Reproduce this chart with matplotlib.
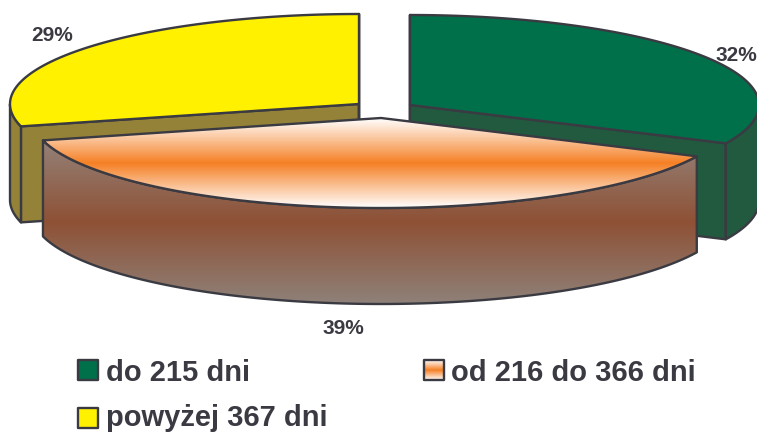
import numpy as np
import matplotlib
matplotlib.use('Agg')
import matplotlib.pyplot as plt
from matplotlib.colors import LinearSegmentedColormap
from matplotlib.patches import Polygon, Rectangle

plt.rcParams['font.family'] = ['Liberation Sans', 'DejaVu Sans']

# shares of each group, clockwise from twelve o'clock
categories = ['do 215 dni', 'od 216 do 366 dni', 'powyżej 367 dni']
shares = [32, 39, 29]

GREEN_TOP = '#00704a'
GREEN_SIDE = '#215a3f'
YELLOW_TOP = '#fff100'
YELLOW_SIDE = '#958239'
EDGE = '#3a3a42'

# ellipse of the pie and its extrusion, in pixels
RX, RY, DEPTH = 349, 90, 96
# slice apex after the explode offset
apex = [(410, 105), (381, 118), (359, 104)]
label_pos = [(736, 61), (343.5, 334), (52, 41)]

orange_cmap = LinearSegmentedColormap.from_list('top', ['#ffffff', '#f58025', '#ffffff'])
brown_cmap = LinearSegmentedColormap.from_list('side', ['#948279', '#8e5135', '#8f8179'])

fig = plt.figure(figsize=(7.57, 4.32), dpi=100)
ax = fig.add_axes([0, 0, 1, 1])


def rim(cx, cy, a0, a1, n=200):
    t = np.radians(np.linspace(a0, a1, n))
    return np.column_stack([cx + RX * np.sin(t), cy - RY * np.cos(t)])


def grad_fill(pts, cmap, y0, y1, z):
    # vertical gradient image clipped to the polygon
    grad = np.linspace(0, 1, 256).reshape(-1, 1)
    x0 = pts[:, 0].min()
    x1 = pts[:, 0].max()
    im = ax.imshow(grad, cmap=cmap, extent=(x0, x1, y1, y0), aspect='auto', zorder=z, interpolation='bilinear')
    poly = Polygon(pts, closed=True, transform=ax.transData, facecolor='none', edgecolor=EDGE,
                   linewidth=1.7, joinstyle='round', zorder=z + 0.1)
    ax.add_patch(poly)
    im.set_clip_path(poly)


def paint(pts, z, face=None, cmap=None, y0=0, y1=1):
    if cmap is not None:
        grad_fill(pts, cmap, y0, y1, z)
    else:
        ax.add_patch(Polygon(pts, closed=True, facecolor=face, edgecolor=EDGE,
                             linewidth=1.7, joinstyle='round', zorder=z))


def draw_slice(i, a0, a1, z, top=None, side=None):
    cx, cy = apex[i]
    arc = rim(cx, cy, a0, a1)
    down = np.array([0, DEPTH])
    # walls along the two cut faces, only those facing the viewer
    walls = []
    for ang in (a0, a1):
        p = rim(cx, cy, ang, ang, 1)[0]
        walls.append(np.array([(cx, cy), p, p + down, (cx, cy + DEPTH)]))
    front = (np.cos(np.radians(np.linspace(a0, a1, 200))) < 0)
    for w in walls:
        if side is not None:
            paint(w, z, face=side)
    # outer wall, the part of the rim below the ellipse centre
    if front.any():
        a = arc[front]
        wall = np.vstack([a, (a + down)[::-1]])
        if side is not None:
            paint(wall, z + 0.2, face=side)
        else:
            paint(wall, z + 0.2, cmap=brown_cmap, y0=cy + 22, y1=cy + RY + DEPTH)
    body = np.vstack([(cx, cy), arc])
    if top is not None:
        paint(body, z + 0.4, face=top)
    else:
        paint(body, z + 0.4, cmap=orange_cmap, y0=cy, y1=cy + RY)


ends = np.cumsum(shares) / np.sum(shares) * 360
starts = ends - np.array(shares) / np.sum(shares) * 360

draw_slice(0, starts[0], ends[0], 1, top=GREEN_TOP, side=GREEN_SIDE)
draw_slice(2, starts[2], ends[2], 2, top=YELLOW_TOP, side=YELLOW_SIDE)
draw_slice(1, starts[1], ends[1], 3)

for pos, s in zip(label_pos, shares):
    ax.text(pos[0], pos[1], '{}%'.format(s), fontsize=15, fontweight='bold', color=EDGE,
            ha='center', va='baseline', zorder=10)

# legend
swatches = [(78, 360), (424, 360), (78, 408)]
legend_text = [(106, 381), (451, 381), (106, 426)]
for i, name in enumerate(categories):
    x, y = swatches[i]
    box = np.array([(x, y), (x + 20, y), (x + 20, y + 20), (x, y + 20)])
    if i == 0:
        paint(box, 8, face=GREEN_TOP)
    elif i == 2:
        paint(box, 8, face=YELLOW_TOP)
    else:
        paint(box, 8, cmap=orange_cmap, y0=y, y1=y + 20)
    ax.text(legend_text[i][0], legend_text[i][1], name, fontsize=21, fontweight='bold', color=EDGE,
            ha='left', va='baseline', zorder=10)

ax.set_xlim(0, 757)
ax.set_ylim(432, 0)
ax.axis('off')

plt.savefig('out.png', dpi=100)
